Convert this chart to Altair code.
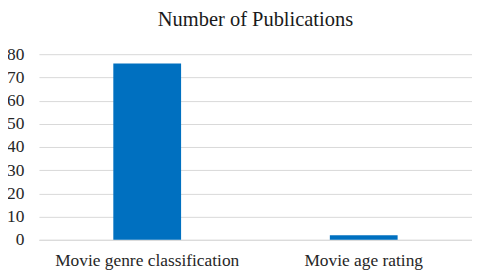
import altair as alt
import pandas as pd

categories = ["Movie genre classification", "Movie age rating"]
publications = [76, 2]

df = pd.DataFrame({"task": categories, "count": publications})

font = "Times New Roman, Liberation Serif, serif"

chart = alt.Chart(df).mark_bar(color="#0070C0").encode(
    x=alt.X("task:N", sort=categories, title=None,
            scale=alt.Scale(paddingInner=0.687, paddingOuter=0.3435),
            axis=alt.Axis(labelAngle=0, labelFont=font, labelFontSize=17.4, labelColor="#262626",
                          labelLimit=0, ticks=False, domainColor="#d9d9d9", labelPadding=12)),
    y=alt.Y("count:Q", title=None,
            scale=alt.Scale(domain=[0, 80], nice=False),
            axis=alt.Axis(values=list(range(0, 81, 10)), labelFont=font, labelFontSize=17.4,
                          labelColor="#262626", ticks=False, domain=False, gridColor="#d9d9d9",
                          labelPadding=15)),
).properties(
    width=434, height=186,
    title=alt.TitleParams("Number of Publications", font=font, fontSize=20.5, fontWeight="normal",
                          color="#1a1a1a", anchor="middle", offset=15),
    autosize=alt.AutoSizeParams(type="none"),
    padding={"left": 31, "top": 46, "right": 0, "bottom": 30},
).configure_view(stroke=None)

chart.save("out.html", embed_options={"renderer": "svg", "actions": False})
